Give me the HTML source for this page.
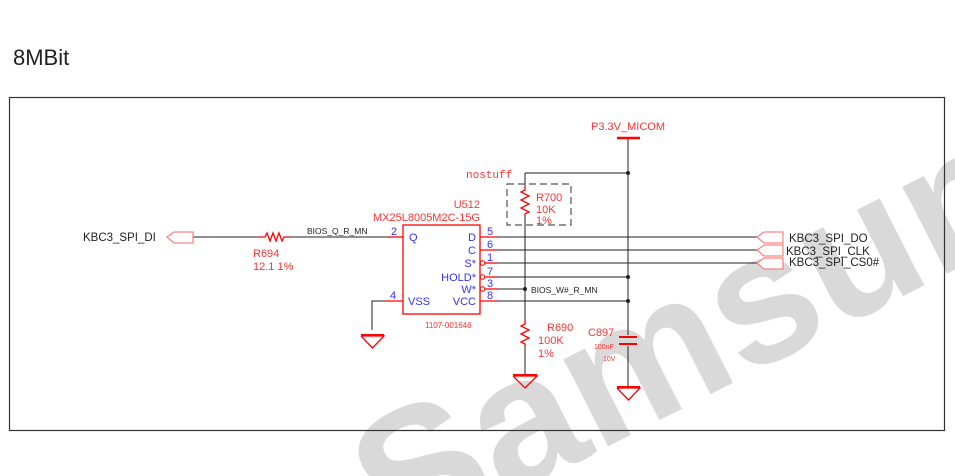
<!DOCTYPE html>
<html><head><meta charset="utf-8"><style>
html,body{margin:0;padding:0;background:#fff;overflow:hidden;width:955px;height:476px;}
svg{display:block;font-family:"Liberation Sans",sans-serif;}
</style></head><body>
<svg width="955" height="476" viewBox="0 0 955 476" xmlns="http://www.w3.org/2000/svg">
<defs><clipPath id="c"><rect width="955" height="476"/></clipPath></defs>
<rect width="955" height="476" fill="#fff"/>
<g clip-path="url(#c)">
<text x="395" y="555" transform="rotate(-27 395 555)" font-size="185" font-weight="bold" fill="#d9d9d9">Samsung</text>
</g>
<text x="13" y="65" font-size="22" fill="#222">8MBit</text>
<rect x="9.5" y="97.5" width="935" height="333" fill="none" stroke="#333" stroke-width="1.2"/>

<g stroke="#222" stroke-width="1" fill="none">
<line x1="193" y1="237" x2="257" y2="237"/>
<line x1="290" y1="237" x2="388" y2="237"/>
<line x1="498" y1="237" x2="757" y2="237"/>
<line x1="498" y1="250" x2="757" y2="250"/>
<line x1="498" y1="263" x2="757" y2="263"/>
<line x1="498" y1="277" x2="628" y2="277"/>
<line x1="498" y1="289" x2="525" y2="289"/>
<line x1="498" y1="301" x2="628" y2="301"/>
<line x1="628" y1="139" x2="628" y2="335"/>
<line x1="628" y1="346" x2="628" y2="385"/>
<line x1="525" y1="173" x2="628" y2="173"/>
<line x1="525" y1="173" x2="525" y2="186"/>
<line x1="525" y1="215" x2="525" y2="320"/>
<line x1="525" y1="345" x2="525" y2="373"/>
<polyline points="385,301 372,301 372,330"/>
</g>
<g fill="#222">
<circle cx="628" cy="173" r="2"/><circle cx="628" cy="277" r="2"/><circle cx="628" cy="301" r="2"/><circle cx="525" cy="289" r="2"/>
</g>

<g stroke="#f00" stroke-width="1.3" fill="none">
<line x1="617" y1="138" x2="640" y2="138" stroke-width="2.5"/>
<line x1="361" y1="335" x2="384" y2="335" stroke-width="2"/>
<polyline points="361,336 384,336 372.5,348 361,336"/>
<line x1="525" y1="373" x2="525" y2="375"/>
<line x1="513" y1="375" x2="537" y2="375" stroke-width="2"/>
<polyline points="513,376 537,376 525,388 513,376"/>
<line x1="617" y1="387" x2="640" y2="387" stroke-width="2"/>
<polyline points="617,388 640,388 628.5,400 617,388"/>
<line x1="628" y1="385" x2="628" y2="387"/>
<line x1="619" y1="337" x2="637" y2="337" stroke-width="2"/>
<line x1="619" y1="344" x2="637" y2="344" stroke-width="2"/>
<polyline points="257,237 265,237 267,233 270,241 273,233 276,241 279,233 282,241 284,237 290,237"/>
<polyline points="525,186 525,190 521,192 529,196 521,200 529,204 521,208 529,212 525,214 525,215"/>
<polyline points="525,320 525,324 521,326 529,330 521,334 529,338 521,342 525,344 525,345"/>
<rect x="403" y="225" width="77" height="89"/>
<line x1="388" y1="237" x2="403" y2="237"/>
<line x1="385" y1="301" x2="403" y2="301"/>
<line x1="480" y1="237" x2="498" y2="237"/>
<line x1="480" y1="250" x2="498" y2="250"/>
<line x1="485" y1="263" x2="498" y2="263"/>
<line x1="485" y1="277" x2="498" y2="277"/>
<line x1="485" y1="289" x2="498" y2="289"/>
<line x1="480" y1="301" x2="498" y2="301"/>
<circle cx="482.5" cy="263" r="2.3" stroke-width="1"/>
<circle cx="482.5" cy="277" r="2.3" stroke-width="1"/>
<circle cx="482.5" cy="289" r="2.3" stroke-width="1"/>
</g>
<rect x="507" y="184" width="64" height="41" fill="none" stroke="#555" stroke-width="1.2" stroke-dasharray="7,4"/>

<g stroke="#f66" stroke-width="1" fill="#fff">
<polygon points="167,237 174,232 193,232 193,243 174,243"/>
<polygon points="757,237 764,232 783,232 783,243 764,243"/>
<polygon points="757,250 764,245 783,245 783,256 764,256"/>
<polygon points="757,263 764,258 783,258 783,269 764,269"/>
</g>

<g font-size="11.5" fill="#222">
<text x="83" y="241">KBC3_SPI_DI</text>
<text x="789" y="242">KBC3_SPI_DO</text>
<text x="786" y="255">KBC3_SPI_CLK</text>
<text x="789" y="266">KBC3_SPI_CS0#</text>
</g>
<g font-size="8.5" fill="#222">
<text x="307" y="234">BIOS_Q_R_MN</text>
<text x="531" y="293">BIOS_W#_R_MN</text>
</g>

<g fill="#f33" font-size="11">
<text x="628" y="130" text-anchor="middle">P3.3V_MICOM</text>
<text x="466" y="178" font-family="Liberation Mono,monospace" font-size="11">nostuff</text>
<text x="536" y="201">R700</text>
<text x="536" y="213">10K</text>
<text x="536" y="224">1%</text>
<text x="480" y="208" text-anchor="end">U512</text>
<text x="480" y="221" text-anchor="end">MX25L8005M2C-15G</text>
<text x="253" y="257">R694</text>
<text x="253" y="270">12.1 1%</text>
<text x="547" y="331">R690</text>
<text x="538" y="344">100K</text>
<text x="538" y="357">1%</text>
<text x="588" y="336">C897</text>
<text x="594" y="349" font-size="7">100nF</text>
<text x="603" y="361" font-size="7">10V</text>
<text x="425" y="328" font-size="8">1107-001646</text>
</g>

<g fill="#33f" font-size="11">
<text x="409" y="241">Q</text>
<text x="408" y="305">VSS</text>
<text x="476" y="241" text-anchor="end">D</text>
<text x="476" y="254" text-anchor="end">C</text>
<text x="476" y="267" text-anchor="end">S*</text>
<text x="476" y="281" text-anchor="end">HOLD*</text>
<text x="476" y="293" text-anchor="end">W*</text>
<text x="476" y="305" text-anchor="end">VCC</text>
<text x="391" y="235">2</text>
<text x="390" y="299">4</text>
<text x="487" y="235">5</text>
<text x="487" y="248">6</text>
<text x="487" y="261">1</text>
<text x="487" y="275">7</text>
<text x="487" y="287">3</text>
<text x="487" y="299">8</text>
</g>
</svg>
</body></html>
